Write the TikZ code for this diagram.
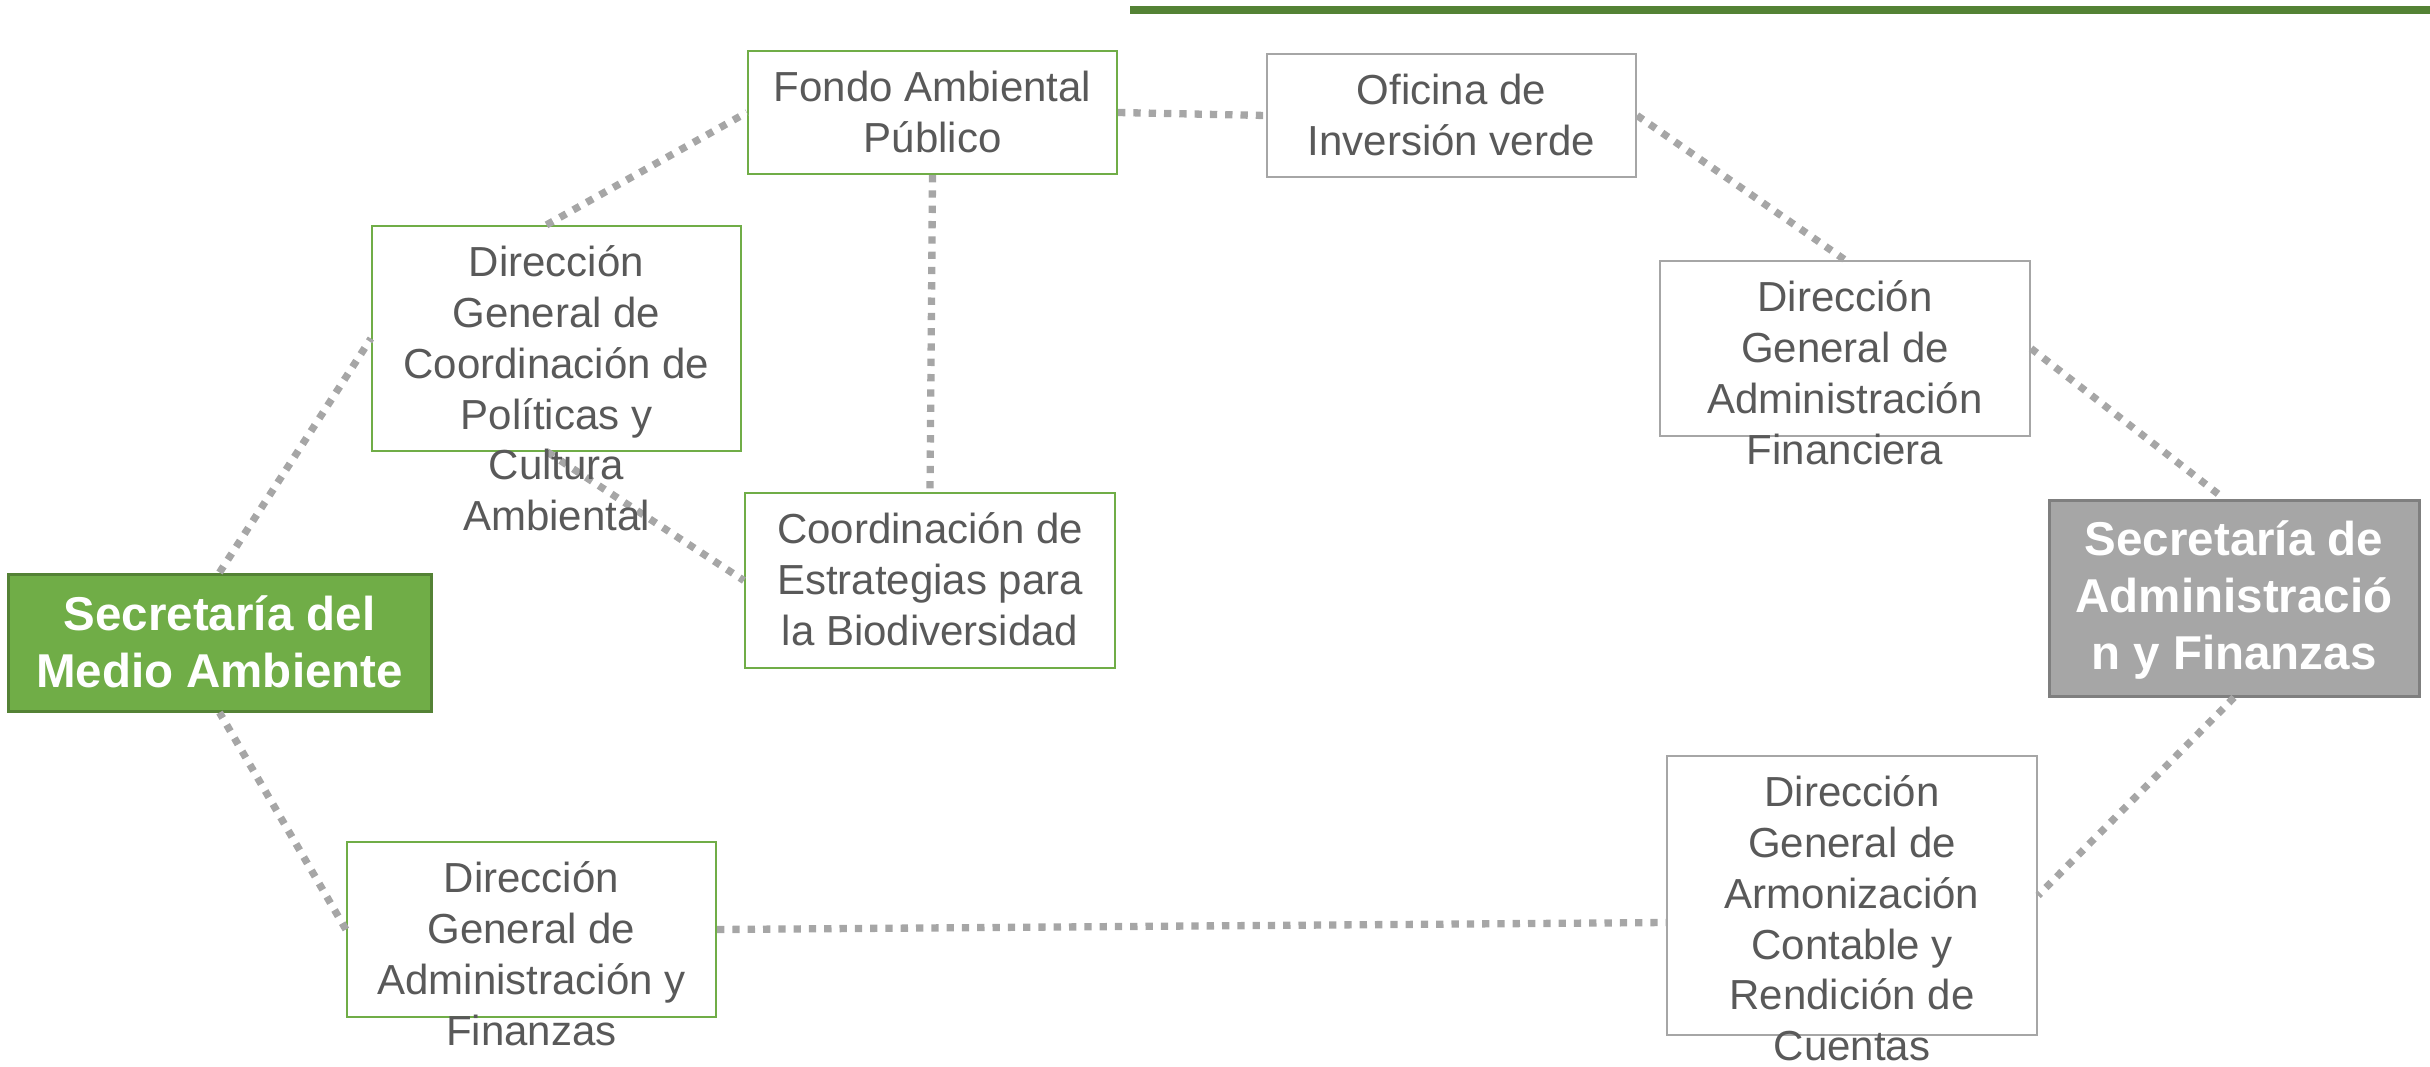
\documentclass[tikz,border=0pt]{standalone}
\usepackage{fontspec}
\setmainfont{Liberation Sans}
\usetikzlibrary{calc}
\definecolor{txtgray}{HTML}{595959}
\definecolor{lgreen}{HTML}{70AD47}
\definecolor{dgreen}{HTML}{548235}
\definecolor{lgray}{HTML}{A6A6A6}
\definecolor{mgray}{HTML}{7F7F7F}
\begin{document}
\begin{tikzpicture}[x=1pt,y=-1pt,
  box/.style={draw, rectangle, inner sep=0pt, fill=white, line width=2.2pt},
  gbox/.style={box, draw=lgreen},
  ybox/.style={box, draw=lgray},
  lbl/.style={anchor=north, inner sep=0pt, align=center, text=txtgray, font=\fontsize{42}{50.8}\selectfont},
  blbl/.style={anchor=north, inner sep=0pt, align=center, text=white, font=\fontsize{47.5}{57}\selectfont\bfseries},
  link/.style={draw=lgray, line width=7.3pt, dash pattern=on 7.3pt off 8pt}
]
\useasboundingbox (0,0) rectangle (2430,1066);
\fill[dgreen] (1130,6) rectangle (2430,14);

% boxes
\node[gbox, minimum width=369pt, minimum height=123pt] (fondo) at (932.5,112.5) {};
\node[ybox, minimum width=369pt, minimum height=123pt] (ofi) at (1451.5,115.5) {};
\node[gbox, minimum width=369pt, minimum height=225pt] (dgc) at (556.5,338.5) {};
\node[gbox, minimum width=370pt, minimum height=175pt] (ceb) at (930,580.5) {};
\node[box, draw=dgreen, fill=lgreen, line width=3pt, minimum width=423pt, minimum height=137pt] (sma) at (219.5,642.5) {};
\node[ybox, minimum width=370pt, minimum height=175pt] (dgfin) at (1845,348.5) {};
\node[box, draw=mgray, fill=lgray, line width=3pt, minimum width=370pt, minimum height=196pt] (saf) at (2234,598) {};
\node[gbox, minimum width=369pt, minimum height=175pt] (dgaf) at (531.5,929.5) {};
\node[ybox, minimum width=370pt, minimum height=279pt] (arm) at (1852,895.5) {};

% connectors
\draw[link] (sma.north) -- (dgc.west);
\draw[link] ($(dgc.north)+(-10,0)$) -- (fondo.west);
\draw[link] (fondo.south) -- (ceb.north);
\draw[link] ($(dgc.south)+(-9,0)$) -- (ceb.west);
\draw[link] (fondo.east) -- (ofi.west);
\draw[link] (ofi.east) -- (dgfin.north);
\draw[link] (dgfin.east) -- ($(saf.north)+(-10,0)$);
\draw[link] (saf.south) -- (arm.east);
\draw[link] (dgaf.east) -- ($(arm.west)+(0,27)$);
\draw[link] (dgaf.west) -- (sma.south);

% labels
\node[lbl] (fondo-t) at ($(fondo.north)+(0,16)$) {\strut Fondo Ambiental\\P\'ublico};
\node[lbl] (ofi-t) at ($(ofi.north)+(0,16)$) {\strut Oficina de\\Inversi\'on verde};
\node[lbl] (dgc-t) at ($(dgc.north)+(0,16)$) {\strut Direcci\'on\\General de\\Coordinaci\'on de\\Pol\'iticas y\\Cultura\\Ambiental};
\node[lbl] (ceb-t) at ($(ceb.north)+(0,16)$) {\strut Coordinaci\'on de\\Estrategias para\\la Biodiversidad};
\node[blbl] (sma-t) at ($(sma.north)+(0,18)$) {\strut Secretar\'ia del\\Medio Ambiente};
\node[lbl] (dgfin-t) at ($(dgfin.north)+(0,16)$) {\strut Direcci\'on\\General de\\Administraci\'on\\Financiera};
\node[blbl] (saf-t) at ($(saf.north)+(0,17)$) {\strut Secretar\'ia de\\Administraci\'o\\n y Finanzas};
\node[lbl] (dgaf-t) at ($(dgaf.north)+(0,16)$) {\strut Direcci\'on\\General de\\Administraci\'on y\\Finanzas};
\node[lbl] (arm-t) at ($(arm.north)+(0,16)$) {\strut Direcci\'on\\General de\\Armonizaci\'on\\Contable y\\Rendici\'on de\\Cuentas};
\end{tikzpicture}
\end{document}
